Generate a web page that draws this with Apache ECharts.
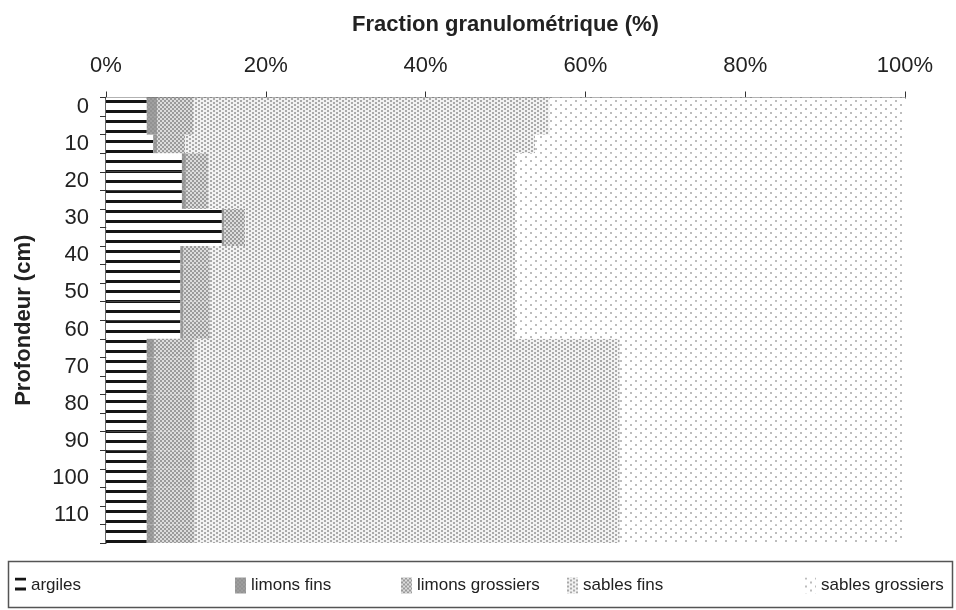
<!DOCTYPE html>
<html>
<head>
<meta charset="utf-8">
<script src="https://cdn.jsdelivr.net/npm/echarts@6/dist/echarts.min.js"></script>
<style>
html,body{margin:0;padding:0;background:#fff;}
#chart{width:956px;height:610px;}
</style>
</head>
<body>
<div id="chart"></div>
<script>
var depths = ['0','5','10','15','20','25','30','35','40','45','50','55','60','65','70','75','80','85','90','95','100','105','110','115'];
var seriesNames = ['argiles','limons fins','limons grossiers','sables fins','sables grossiers'];
var argiles         = [5.1,5.1,5.9,9.5,9.5,9.5,14.5,14.5,9.3,9.3,9.3,9.3,9.3,5.1,5.1,5.1,5.1,5.1,5.1,5.1,5.1,5.1,5.1,5.1];
var limonsFins      = [1.3,1.3,0.5,0.5,0.5,0.5,0.3,0.3,0.4,0.4,0.4,0.4,0.4,0.9,0.9,0.9,0.9,0.9,0.9,0.9,0.9,0.9,0.9,0.9];
var limonsGrossiers = [4.5,4.5,3.5,2.8,2.8,2.8,2.6,2.6,3.3,3.3,3.3,3.3,3.3,5.1,5.1,5.1,5.1,5.1,5.1,5.1,5.1,5.1,5.1,5.1];
var sablesFins      = [44.6,44.6,43.8,38.4,38.4,38.4,33.8,33.8,38.2,38.2,38.2,38.2,38.2,53.2,53.2,53.2,53.2,53.2,53.2,53.2,53.2,53.2,53.2,53.2];
var sablesGrossiers = [44.5,44.5,46.3,48.8,48.8,48.8,48.8,48.8,48.8,48.8,48.8,48.8,48.8,35.7,35.7,35.7,35.7,35.7,35.7,35.7,35.7,35.7,35.7,35.7];
var xTicks = [0,20,40,60,80,100];

function makePattern(w, h, draw) {
  var c = document.createElement('canvas');
  c.width = w; c.height = h;
  var ctx = c.getContext('2d');
  ctx.fillStyle = '#ffffff';
  ctx.fillRect(0, 0, w, h);
  draw(ctx);
  return { image: c, repeat: 'repeat' };
}
var patArgiles = makePattern(10, 10, function (ctx) {
  ctx.fillStyle = '#151515'; ctx.fillRect(0, 0, 10, 3);
});
var patLimonsFins = makePattern(4, 4, function (ctx) {
  ctx.fillStyle = '#a0a0a0'; ctx.fillRect(0, 0, 4, 4);
  ctx.fillStyle = '#929292'; ctx.fillRect(0, 0, 2, 2); ctx.fillRect(2, 2, 2, 2);
});
var patLimonsGrossiers = makePattern(4, 4, function (ctx) {
  ctx.fillStyle = '#dcdcdc'; ctx.fillRect(0, 0, 4, 4);
  ctx.fillStyle = '#9a9a9a'; ctx.fillRect(0, 0, 2, 2); ctx.fillRect(2, 2, 2, 2);
});
var patSablesFins = makePattern(6, 4, function (ctx) {
  ctx.fillStyle = '#f2f2f2'; ctx.fillRect(0, 0, 6, 4);
  ctx.fillStyle = '#aaaaaa'; ctx.fillRect(0, 0, 2, 2); ctx.fillRect(3, 2, 2, 2);
});
var patSablesGrossiers = makePattern(10, 8, function (ctx) {
  ctx.fillStyle = '#bdbdbd'; ctx.fillRect(0, 0, 2, 2); ctx.fillRect(5, 4, 2, 2);
});
var patterns = [patArgiles, patLimonsFins, patLimonsGrossiers, patSablesFins, patSablesGrossiers];
var values = [argiles, limonsFins, limonsGrossiers, sablesFins, sablesGrossiers];

var FONT = '"Liberation Sans", Arial, sans-serif';
var chart = echarts.init(document.getElementById('chart'), null, { renderer: 'canvas' });

var series = seriesNames.map(function (n, i) {
  return {
    name: n, type: 'bar', stack: 'total',
    barCategoryGap: '0%', barGap: '0%',
    itemStyle: { color: patterns[i], borderWidth: 0 },
    emphasis: { disabled: true },
    data: values[i]
  };
});

var legendLefts = [10, 230, 396, 562, 800];
var legends = seriesNames.map(function (n, i) {
  return {
    data: [n], left: legendLefts[i], top: 572, orient: 'horizontal',
    itemWidth: 11, itemHeight: 16, itemGap: 0,
    icon: 'rect',
    textStyle: { fontFamily: FONT, fontSize: 17, color: '#222' },
    selectedMode: false
  };
});

chart.setOption({
  animation: false,
  backgroundColor: '#ffffff',
  grid: { left: 106, right: 51, top: 97.5, bottom: 67, containLabel: false },
  legend: legends,
  graphic: [{
    type: 'rect', left: 6, top: 559,
    shape: { width: 944, height: 46 },
    style: { fill: 'none', stroke: '#555', lineWidth: 1.5 }
  }],
  xAxis: {
    type: 'value', position: 'top', min: 0, max: 100, interval: 20,
    name: 'Fraction granulométrique (%)', nameLocation: 'middle', nameGap: 62,
    nameTextStyle: { fontFamily: FONT, fontSize: 22, fontWeight: 'bold', color: '#222' },
    axisLine: { show: true, lineStyle: { color: '#333', width: 1.5 } },
    axisTick: { show: true, length: 6, lineStyle: { color: '#333' } },
    axisLabel: { fontFamily: FONT, fontSize: 22, color: '#222', margin: 21,
      formatter: function (v) { return xTicks.indexOf(v) >= 0 ? v + '%' : ''; } },
    splitLine: { show: false }
  },
  yAxis: {
    type: 'category', inverse: true, data: depths,
    name: 'Profondeur (cm)', nameLocation: 'middle', nameGap: 71, nameRotate: 90,
    nameTextStyle: { fontFamily: FONT, fontSize: 22, fontWeight: 'bold', color: '#222' },
    axisLine: { show: true, lineStyle: { color: '#333', width: 1.5 } },
    axisTick: { show: true, length: 6, interval: 0, lineStyle: { color: '#333' } },
    axisLabel: { fontFamily: FONT, fontSize: 22, color: '#222', margin: 17, interval: 1 }
  },
  series: series
});
</script>
</body>
</html>
